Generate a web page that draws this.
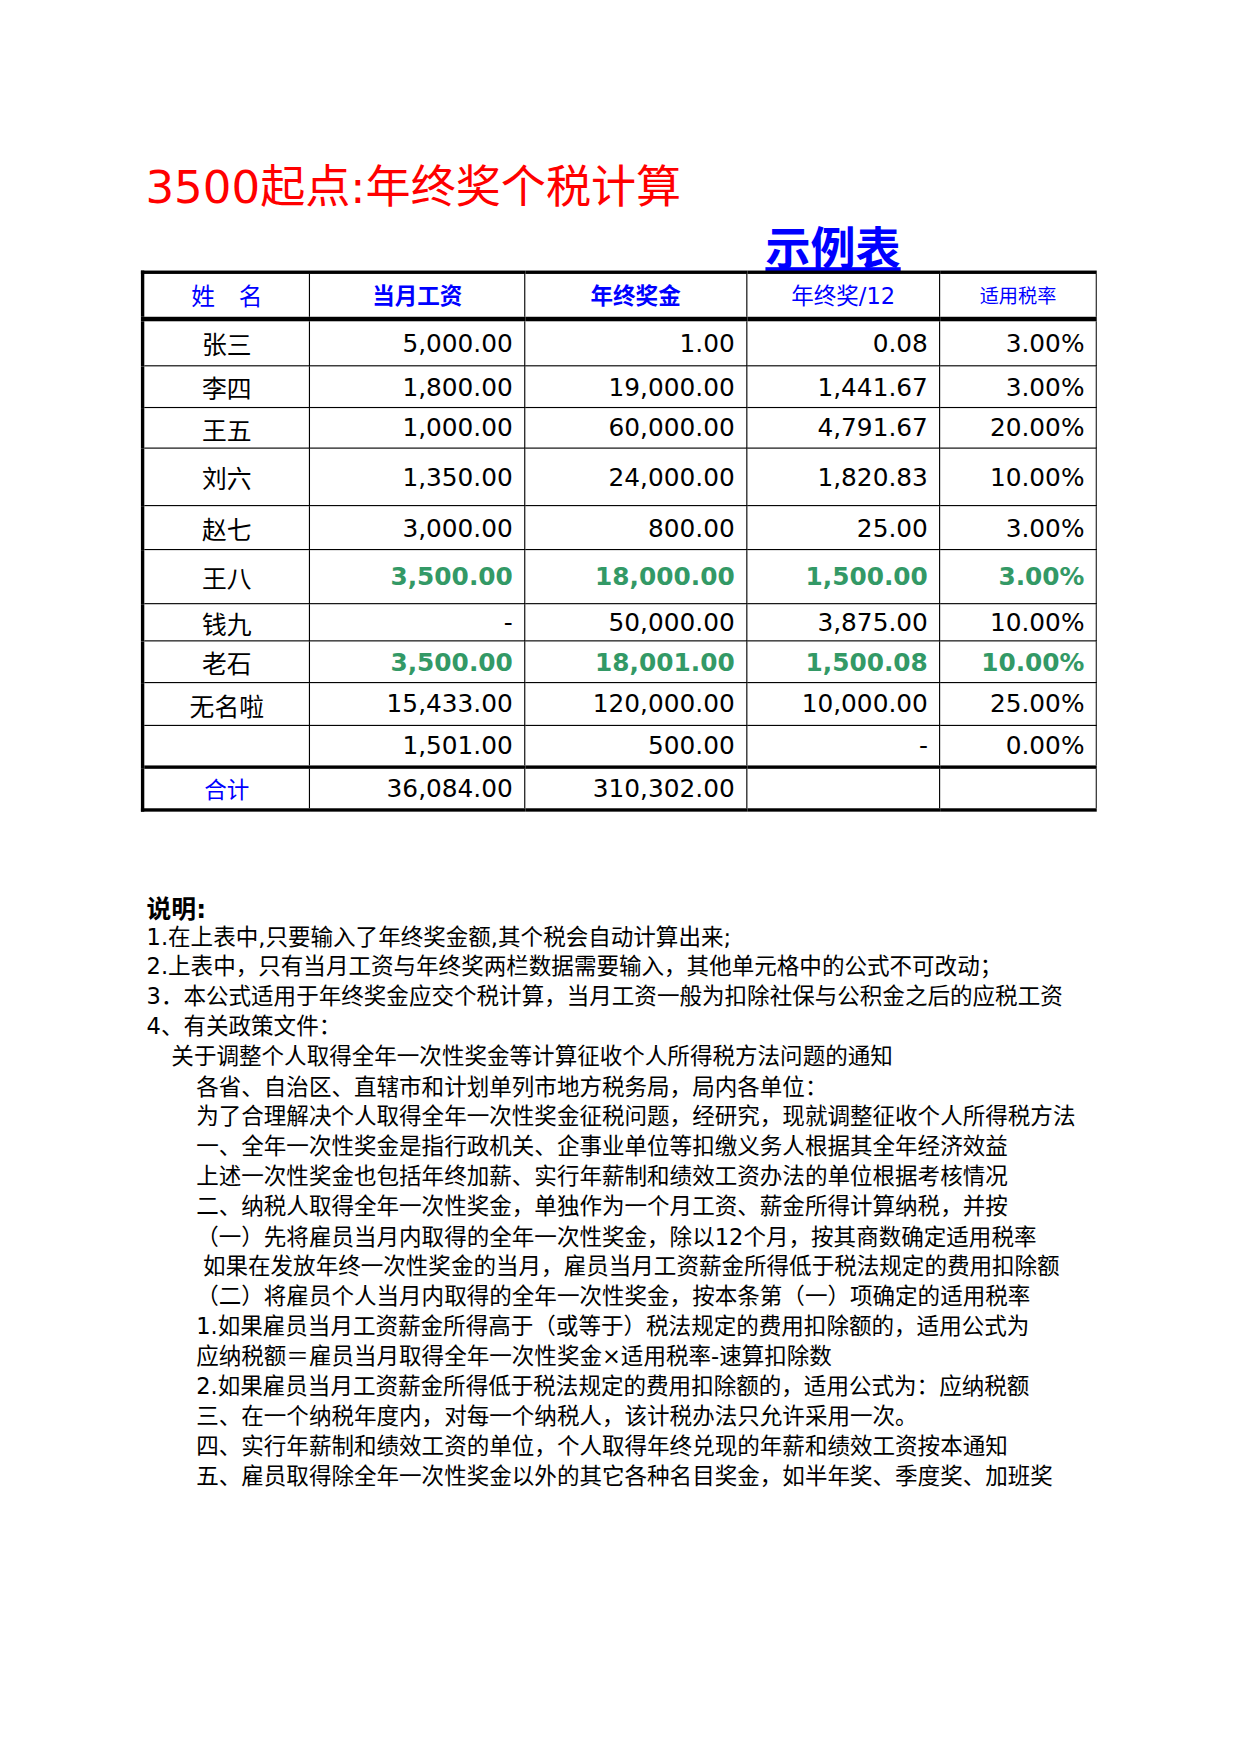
<!DOCTYPE html>
<html>
<head>
<meta charset="utf-8">
<script src="https://cdn.jsdelivr.net/npm/chart.js@4"></script>
<style>
  body { margin: 0; background: #fff; font-family: "DejaVu Sans", "Noto Sans CJK SC", sans-serif; overflow: hidden; }
  #page { position: relative; width: 1100px; height: 1556px; transform: scale(1.1273); transform-origin: 0 0; }
  #clip { position: absolute; left: 0; top: 0; width: 973px; height: 1556px; overflow: hidden; }
  #title { position: absolute; left: 129px; top: 134px; font-size: 40px; color: #ff0000; white-space: nowrap; }
  #sub { position: absolute; left: 679px; top: 189px; font-size: 40px; font-weight: bold; color: #0000ff; text-decoration: underline; white-space: nowrap; }
  table { position: absolute; left: 125px; top: 240px; border-collapse: collapse; table-layout: fixed; }
  td { border: 1px solid #000; font-size: 22px; padding: 0 10px; white-space: nowrap; overflow: hidden; }
  td.name { text-align: center; }
  td.num { text-align: right; }
  tr.head td { color: #0000ff; text-align: center; font-size: 20px; border-bottom: 4px solid #000; }
  tr.head td { border-top: 3px solid #000; }
  tr.total td { border-top: 3px solid #000; border-bottom: 3px solid #000; }
  td.first { border-left: 3px solid #000; }
  .hl { color: #339966; font-weight: bold; }
  #notes { position: absolute; left: 0; top: 790px; font-size: 20px; color: #000; }
  #notes div { position: absolute; white-space: nowrap; height: 26.5px; }
</style>
</head>
<body>
<div id="page">
<div id="clip">
  <div id="title">3500起点:年终奖个税计算</div>
  <div id="sub">示例表</div>
  <table id="tbl"></table>
  <div id="notes"></div>
</div>
</div>
<script>
var headers = ['姓　名', '当月工资', '年终奖金', '年终奖/12', '适用税率'];
var names = ['张三', '李四', '王五', '刘六', '赵七', '王八', '钱九', '老石', '无名啦', '', '合计'];
var salary = ['5,000.00', '1,800.00', '1,000.00', '1,350.00', '3,000.00', '3,500.00', '-', '3,500.00', '15,433.00', '1,501.00', '36,084.00'];
var bonus = ['1.00', '19,000.00', '60,000.00', '24,000.00', '800.00', '18,000.00', '50,000.00', '18,001.00', '120,000.00', '500.00', '310,302.00'];
var monthly = ['0.08', '1,441.67', '4,791.67', '1,820.83', '25.00', '1,500.00', '3,875.00', '1,500.08', '10,000.00', '-', ''];
var rate = ['3.00%', '3.00%', '20.00%', '10.00%', '3.00%', '3.00%', '10.00%', '10.00%', '25.00%', '0.00%', ''];
var highlighted = [5, 7];

var colWidths = [151, 193, 199, 173, 140];
var rowHeights = [42, 37, 36, 51, 39, 48, 27, 37, 38, 37, 38];

var notes = [
  [130, '<b>说明:</b>'],
  [130, '1.在上表中,只要输入了年终奖金额,其个税会自动计算出来;'],
  [130, '2.上表中，只有当月工资与年终奖两栏数据需要输入，其他单元格中的公式不可改动；'],
  [130, '3．本公式适用于年终奖金应交个税计算，当月工资一般为扣除社保与公积金之后的应税工资'],
  [130, '4、有关政策文件：'],
  [152, '关于调整个人取得全年一次性奖金等计算征收个人所得税方法问题的通知'],
  [174, '各省、自治区、直辖市和计划单列市地方税务局，局内各单位：'],
  [174, '为了合理解决个人取得全年一次性奖金征税问题，经研究，现就调整征收个人所得税方法'],
  [174, '一、全年一次性奖金是指行政机关、企事业单位等扣缴义务人根据其全年经济效益'],
  [174, '上述一次性奖金也包括年终加薪、实行年薪制和绩效工资办法的单位根据考核情况'],
  [174, '二、纳税人取得全年一次性奖金，单独作为一个月工资、薪金所得计算纳税，并按'],
  [174, '（一）先将雇员当月内取得的全年一次性奖金，除以12个月，按其商数确定适用税率'],
  [180, '如果在发放年终一次性奖金的当月，雇员当月工资薪金所得低于税法规定的费用扣除额'],
  [174, '（二）将雇员个人当月内取得的全年一次性奖金，按本条第（一）项确定的适用税率'],
  [174, '1.如果雇员当月工资薪金所得高于（或等于）税法规定的费用扣除额的，适用公式为'],
  [174, '应纳税额＝雇员当月取得全年一次性奖金×适用税率-速算扣除数'],
  [174, '2.如果雇员当月工资薪金所得低于税法规定的费用扣除额的，适用公式为：应纳税额'],
  [174, '三、在一个纳税年度内，对每一个纳税人，该计税办法只允许采用一次。'],
  [174, '四、实行年薪制和绩效工资的单位，个人取得年终兑现的年薪和绩效工资按本通知'],
  [174, '五、雇员取得除全年一次性奖金以外的其它各种名目奖金，如半年奖、季度奖、加班奖']
];

var tbl = document.getElementById('tbl');
var html = '<colgroup>' + colWidths.map(function(w) { return '<col style="width:' + w + 'px">'; }).join('') + '</colgroup>';
html += '<tr class="head" style="height:41px">';
headers.forEach(function(h, i) {
  var bold = (i === 1 || i === 2) ? 'font-weight:bold;' : '';
  var sz = i === 4 ? 'font-size:17px;' : (i === 0 ? 'font-size:21px;' : '');
  html += '<td class="' + (i === 0 ? 'first' : '') + '" style="' + bold + sz + '">' + h + '</td>';
});
html += '</tr>';
for (var r = 0; r < names.length; r++) {
  var cls = highlighted.indexOf(r) >= 0 ? ' hl' : '';
  var total = r === names.length - 1;
  html += '<tr' + (total ? ' class="total"' : '') + ' style="height:' + rowHeights[r] + 'px">';
  html += '<td class="name first"' + (total ? ' style="color:#0000ff;font-size:20px"' : '') + '>' + names[r] + '</td>';
  html += '<td class="num' + cls + '">' + salary[r] + '</td>';
  html += '<td class="num' + cls + '">' + bonus[r] + '</td>';
  html += '<td class="num' + cls + '">' + monthly[r] + '</td>';
  html += '<td class="num' + cls + '">' + rate[r] + '</td>';
  html += '</tr>';
}
tbl.innerHTML = html;

var box = document.getElementById('notes');
notes.forEach(function(n, i) {
  var d = document.createElement('div');
  d.style.left = n[0] + 'px';
  d.style.top = (i * 26.6 - 2) + 'px';
  d.innerHTML = n[1];
  if (i === 0) d.style.fontSize = '22px';
  box.appendChild(d);
});
</script>
</body>
</html>
